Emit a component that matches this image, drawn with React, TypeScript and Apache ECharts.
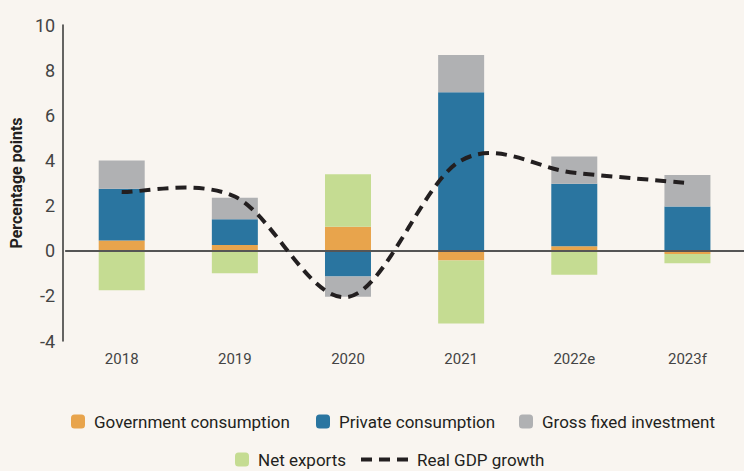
import React, { useEffect, useRef } from "react";
import * as echarts from "echarts";

const categories = ["2018", "2019", "2020", "2021", "2022e", "2023f"];
const govData = [0.45, 0.25, 1.06, -0.43, 0.2, -0.15];
const privateData = [2.3, 1.14, -1.14, 7.02, 2.77, 1.96];
const grossData = [1.25, 0.96, -0.9, 1.65, 1.2, 1.39];
const netData = [-1.75, -1.0, 2.33, -2.8, -1.07, -0.4];
const gdpData = [2.6, 2.4, -2.05, 4.0, 3.45, 3.0];

const FONT = "Roboto, 'Liberation Sans', sans-serif";

export default function App() {
  const ref = useRef<HTMLDivElement>(null);
  useEffect(() => {
    document.body.style.margin = "0";
    const chart = echarts.init(ref.current!, null, { renderer: "svg" });
    const legendText = { fontFamily: FONT, fontSize: 17, color: "#231f20", padding: [0, 0, 0, 4] };
    const mkLegend = (item: any, left: number, top: number, w = 14, h = 14) => ({
      data: [item],
      left,
      top,
      padding: 0,
      itemWidth: w,
      itemHeight: h,
      itemGap: 0,
      textStyle: legendText,
      selectedMode: false,
    });
    chart.setOption({
      animation: false,
      backgroundColor: "#f9f5f0",
      textStyle: { fontFamily: FONT },
      legend: [
        mkLegend("Government consumption", 71, 413),
        mkLegend("Private consumption", 316, 413),
        mkLegend("Gross fixed investment", 519, 413),
        mkLegend("Net exports", 235, 451),
        mkLegend(
          { name: "Real GDP growth", icon: "path://M0,0H11V4H0Z M18,0H29V4H18Z M36,0H47V4H36Z" },
          361,
          451,
          47,
          4
        ),
      ],
      grid: { left: 62, right: -6, top: 25, bottom: 130 },
      xAxis: {
        type: "category",
        data: categories,
        axisLine: { show: false },
        axisTick: { show: false },
        axisLabel: { fontFamily: FONT, fontSize: 15, color: "#444", margin: 10 },
      },
      yAxis: {
        type: "value",
        min: -4,
        max: 10,
        interval: 2,
        offset: 2,
        name: "Percentage points",
        nameLocation: "middle",
        nameGap: 32,
        nameTextStyle: { fontFamily: FONT, fontSize: 16, fontWeight: "bold", color: "#231f20" },
        axisLine: { show: true, lineStyle: { color: "#333", width: 1.5 } },
        axisTick: { show: false },
        splitLine: { show: false },
        axisLabel: { fontFamily: FONT, fontSize: 18, color: "#444", margin: 8 },
      },
      series: [
        {
          name: "Government consumption",
          type: "bar",
          stack: "total",
          barWidth: 46,
          data: govData,
          itemStyle: { color: "#e8a44c" },
          markLine: {
            silent: true,
            symbol: "none",
            label: { show: false },
            lineStyle: { color: "#555", width: 2, type: "solid" },
            data: [{ yAxis: 0 }],
          },
        },
        {
          name: "Private consumption",
          type: "bar",
          stack: "total",
          barWidth: 46,
          data: privateData,
          itemStyle: { color: "#2a75a0" },
        },
        {
          name: "Gross fixed investment",
          type: "bar",
          stack: "total",
          barWidth: 46,
          data: grossData,
          itemStyle: { color: "#b0b1b3" },
        },
        {
          name: "Net exports",
          type: "bar",
          stack: "total",
          barWidth: 46,
          data: netData,
          itemStyle: { color: "#c5dc92" },
        },
        {
          name: "Real GDP growth",
          type: "custom",
          data: gdpData.map((v, i) => [i, v]),
          z: 5,
          itemStyle: { color: "#231f20" },
          renderItem: (params: any, api: any) => {
            if (params.dataIndex !== 0) return null;
            const p = gdpData.map((v, i) => api.coord([i, v]));
            const n = p.length;
            let d = `M${p[0][0]},${p[0][1]}`;
            for (let i = 0; i < n - 1; i++) {
              const p0 = p[Math.max(i - 1, 0)];
              const p1 = p[i];
              const p2 = p[i + 1];
              const p3 = p[Math.min(i + 2, n - 1)];
              const c1x = p1[0] + (p2[0] - p0[0]) / 6;
              const c1y = p1[1] + (p2[1] - p0[1]) / 6;
              const c2x = p2[0] - (p3[0] - p1[0]) / 6;
              const c2y = p2[1] - (p3[1] - p1[1]) / 6;
              d += ` C${c1x},${c1y} ${c2x},${c2y} ${p2[0]},${p2[1]}`;
            }
            return {
              type: "path",
              shape: { pathData: d },
              style: { stroke: "#231f20", lineWidth: 4, lineDash: [11, 7], fill: "none" },
            };
          },
        },
      ],
    });
    return () => chart.dispose();
  }, []);
  return <div ref={ref} style={{ width: 744, height: 471 }} />;
}
